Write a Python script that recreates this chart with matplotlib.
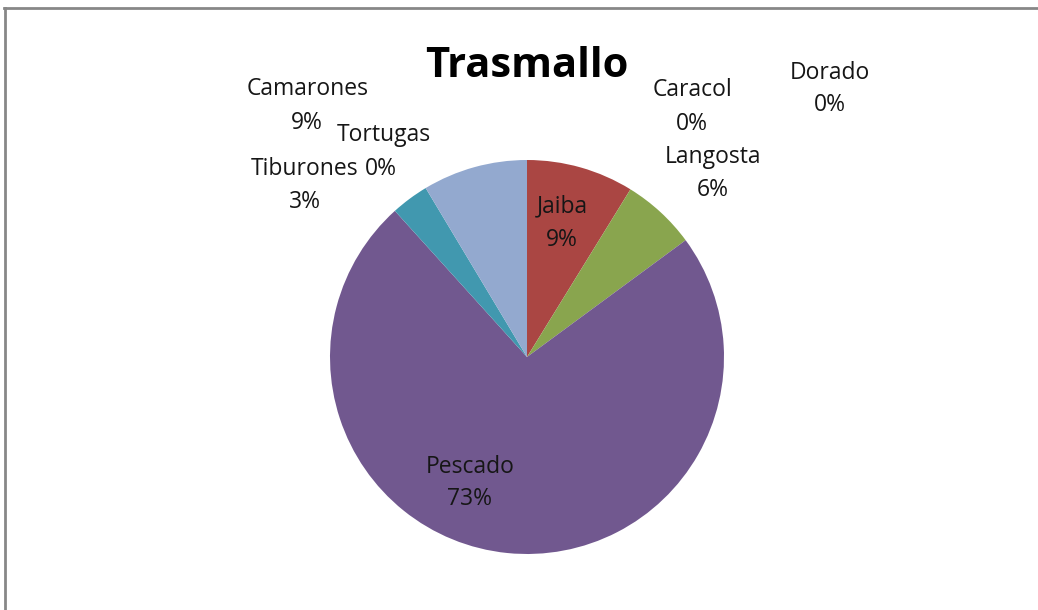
import matplotlib
matplotlib.use("Agg")
import matplotlib.pyplot as plt
from matplotlib.lines import Line2D

# categories in the order they go round the pie (clockwise from the top)
species = ["Caracol", "Jaiba", "Langosta", "Pescado", "Tiburones", "Tortugas", "Camarones", "Dorado"]
share = [0.0, 8.8, 6.1, 73.4, 3.1, 0.0, 8.6, 0.0]
colors = ["#4572A7", "#AA4643", "#89A54E", "#71588F", "#4198AF", "#DB843D", "#93A9CF", "#D19392"]

# data label placement in canvas pixels: x of name, baseline of name, x of percent, baseline of percent
label_px = {
    "Caracol": (692, 96, 692, 130),
    "Jaiba": (562, 212, 562, 246),
    "Langosta": (713, 163, 713, 196),
    "Pescado": (470, 473, 470, 505),
    "Tiburones": (305, 175, 305, 208),
    "Tortugas": (384, 141, 381, 175),
    "Camarones": (308, 95, 307, 129),
    "Dorado": (830, 79, 830, 111),
}

W, H = 1038, 610
cx, cy, r = 527, 357, 197

plt.rcParams["font.family"] = ["Open Sans", "DejaVu Sans"]
fig = plt.figure(figsize=(W / 100, H / 100), dpi=100)
ax = fig.add_axes([(cx - r) / W, (H - cy - r) / H, 2 * r / W, 2 * r / H])

ax.pie(share, colors=colors, startangle=90, counterclock=False, radius=1,
       wedgeprops=dict(linewidth=0))
ax.set_xlim(-1, 1)
ax.set_ylim(-1, 1)
ax.set_aspect("auto")
ax.axis("off")

total = sum(share)
for name, val in zip(species, share):
    nx, ny, px, py = label_px[name]
    pct = round(val / total * 100)
    ax.text((nx - cx) / r, (cy - ny) / r, name, ha="center", va="baseline",
            fontsize=16.5, color="#161616", clip_on=False)
    ax.text((px - cx) / r, (cy - py) / r, f"{pct}%", ha="center", va="baseline",
            fontsize=16.5, color="#161616", clip_on=False)

fig.text(527 / W, 1 - 77 / H, "Trasmallo", ha="center", va="baseline",
         fontsize=30, fontweight="bold", color="black")

# grey frame along the top and left edge
fig.add_artist(Line2D([4 / W, 1], [1 - 8 / H, 1 - 8 / H], color="#878787", linewidth=2))
fig.add_artist(Line2D([5 / W, 5 / W], [0, 1 - 8 / H], color="#878787", linewidth=2))

fig.savefig("out.png", dpi=100, facecolor="white")
